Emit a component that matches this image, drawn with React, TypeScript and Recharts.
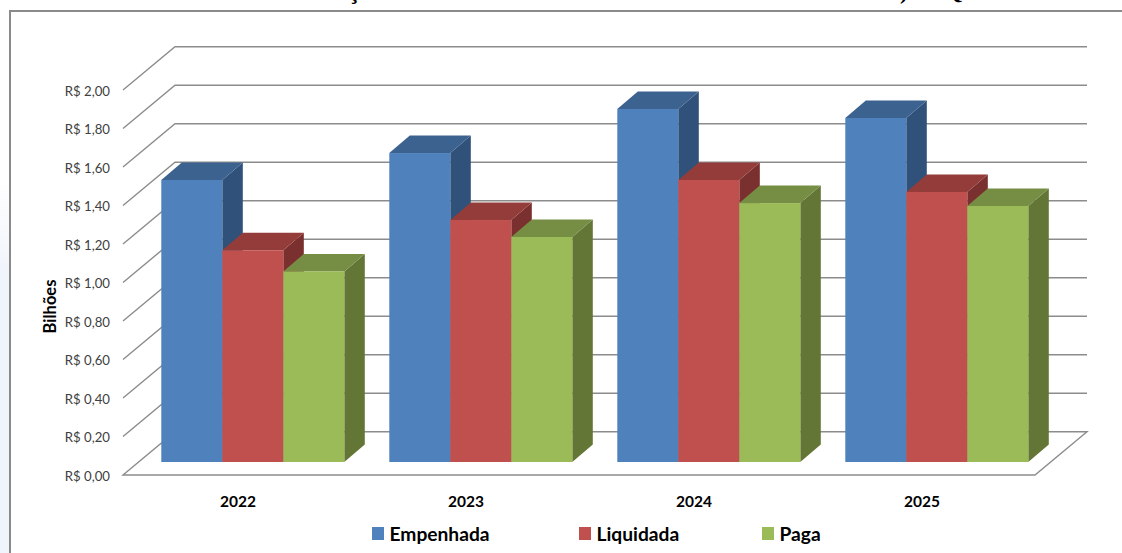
import React from "react";
import { BarChart, Bar, XAxis, YAxis, CartesianGrid, Legend } from "recharts";

const years = ["2022", "2023", "2024", "2025"];
const empenhada = [1.465, 1.605, 1.834, 1.787];
const liquidada = [1.1, 1.257, 1.465, 1.403];
const paga = [0.99, 1.169, 1.345, 1.33];
const yTicks = [0, 0.2, 0.4, 0.6, 0.8, 1, 1.2, 1.4, 1.6, 1.8, 2];
const titleFragments = [
  { text: "Ç", left: 345 },
  { text: ")", left: 900 },
  { text: "Q", left: 944 },
];

const rows = years.map((year, i) => ({
  year,
  Empenhada: empenhada[i],
  Liquidada: liquidada[i],
  Paga: paga[i],
}));

const FONT = "Lato, 'Open Sans', sans-serif";
const GRID = "#8c8c8c";
const WALL_DX = 52;
const WALL_DY = 43.3;
const BAR_DX = 15.3;
const BAR_DY = 13;
const DEPTH_X = 20.5;
const DEPTH_Y = 17.5;

const makeBar = (topFill: string, sideFill: string) => (props: any) => {
  const { x, y, width, height, fill } = props;
  const l = x + BAR_DX;
  const t = y - BAR_DY;
  const r = l + width;
  const b = t + height;
  return (
    <g>
      <polygon points={`${r},${t} ${r + DEPTH_X},${t - DEPTH_Y} ${r + DEPTH_X},${b - DEPTH_Y} ${r},${b}`} fill={sideFill} />
      <polygon points={`${l},${t} ${l + DEPTH_X},${t - DEPTH_Y} ${r + DEPTH_X},${t - DEPTH_Y} ${r},${t}`} fill={topFill} />
      <rect x={l} y={t} width={width} height={height} fill={fill} />
    </g>
  );
};

const gridLine = (props: any) => {
  const { x1, x2, y1, y, height, key } = props;
  const isFloor = y1 >= y + height - 1;
  const bx = WALL_DX;
  const by = y1 - WALL_DY;
  const d = isFloor
    ? `M${x1},${y1} L${x1 + bx},${by} L${x2 + bx},${by} L${x2},${y1} Z`
    : `M${x1},${y1} L${x1 + bx},${by} L${x2 + bx},${by}`;
  return <path key={key} d={d} fill="none" stroke={GRID} strokeWidth={1.4} />;
};

const legendContent = (props: any) => {
  const widths = [207, 183, 90];
  return (
    <div style={{ display: "flex", fontFamily: FONT }}>
      {(props.payload || []).map((item: any, i: number) => (
        <div key={item.value} style={{ width: widths[i], display: "flex", alignItems: "center", height: 28 }}>
          <span style={{ width: 12, height: 13, background: item.color, marginRight: 5.5, display: "inline-block" }} />
          <span style={{ fontWeight: 700, fontSize: 19.2, color: "#000" }}>{item.value}</span>
        </div>
      ))}
    </div>
  );
};

export default function App() {
  return (
    <div style={{ position: "fixed", left: 0, top: 0, width: 1122, height: 553, overflow: "hidden", background: "#fff" }}>
      <div style={{ position: "absolute", left: 0, top: 180, width: 9, height: 373, background: "linear-gradient(#ffffff, #f0f4fb 25%)" }} />
      <div style={{ position: "absolute", left: 9, top: 10, width: 1200, height: 600, border: "2px solid #8a8a8a", boxSizing: "border-box" }} />
      {titleFragments.map((f) => (
        <span
          key={f.left}
          style={{ position: "absolute", left: f.left, top: -22, fontFamily: "'Liberation Serif', serif", fontWeight: 700, fontSize: 24, lineHeight: "27px", color: "#000" }}
        >
          {f.text}
        </span>
      ))}
      <div style={{ position: "absolute", left: 0, top: 0 }}>
        <BarChart
          width={1122}
          height={553}
          data={rows}
          margin={{ top: 90, right: 87, bottom: 38, left: 0 }}
          barGap={0}
          barSize={61}
        >
          <CartesianGrid vertical={false} horizontal={gridLine} />
          <XAxis
            dataKey="year"
            height={40}
            axisLine={false}
            tickLine={false}
            tickMargin={15}
            tick={{ fontFamily: FONT, fontSize: 15.5, fontWeight: 700, fill: "#000", dx: 1 }}
          />
          <YAxis
            width={123}
            domain={[0, 2]}
            ticks={yTicks}
            interval={0}
            axisLine={false}
            tickLine={false}
            tickSize={0}
            tickMargin={13}
            tickFormatter={(v: number) => `R$ ${v.toFixed(2).replace(".", ",")}`}
            tick={{ fontFamily: FONT, fontSize: 13.2, fill: "#404040", dy: 1 }}
            label={{ value: "Bilhões", angle: -90, position: "insideLeft", dx: 45, dy: 24, style: { fontFamily: FONT, fontSize: 16.5, fontWeight: 700, fill: "#000", textAnchor: "middle" } }}
          />
          <Legend
            layout="horizontal"
            verticalAlign="middle"
            align="center"
            content={legendContent}
            wrapperStyle={{ position: "absolute", left: 372, top: 519, width: 500, bottom: "auto", right: "auto" }}
          />
          <Bar dataKey="Empenhada" name="Empenhada" fill="#4F81BD" isAnimationActive={false} shape={makeBar("#3C6290", "#30527A")} />
          <Bar dataKey="Liquidada" name="Liquidada" fill="#C0504D" isAnimationActive={false} shape={makeBar("#933C3A", "#7A302E")} />
          <Bar dataKey="Paga" name="Paga" fill="#9BBB59" isAnimationActive={false} shape={makeBar("#768E44", "#647636")} />
        </BarChart>
      </div>
    </div>
  );
}
